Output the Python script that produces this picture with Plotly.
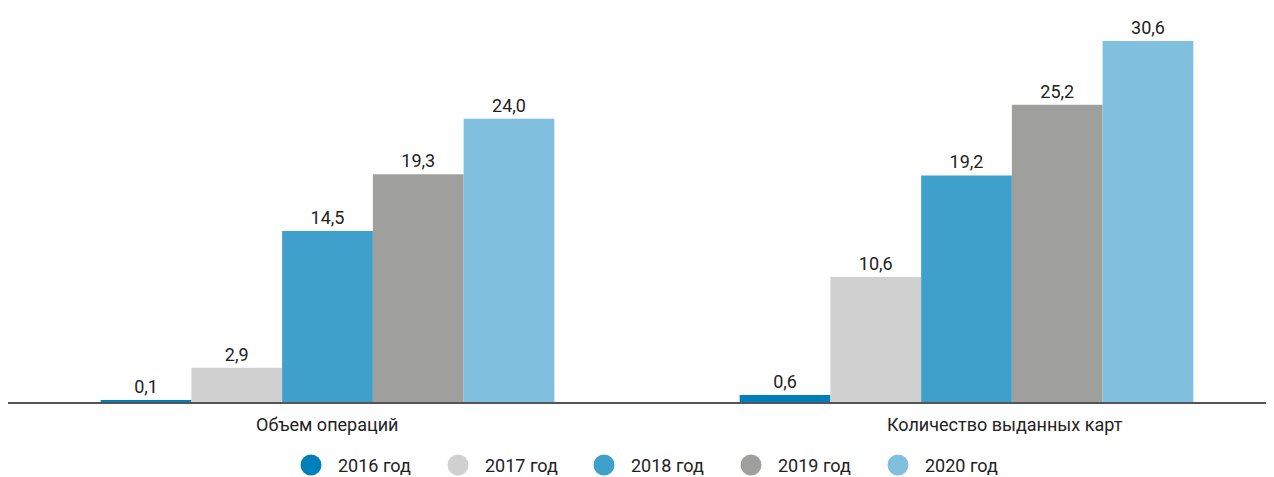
import plotly.graph_objects as go

categories = ["Объем операций", "Количество выданных карт"]
years = ["2016 год", "2017 год", "2018 год", "2019 год", "2020 год"]
values_2016 = [0.1, 0.6]
values_2017 = [2.9, 10.6]
values_2018 = [14.5, 19.2]
values_2019 = [19.3, 25.2]
values_2020 = [24.0, 30.6]
series = [values_2016, values_2017, values_2018, values_2019, values_2020]
colors = ["#0080BB", "#D0D0D0", "#40A0CC", "#9F9F9D", "#80BFDD"]

FONT = "Roboto"
TXT = "#222222"
W, H = 1274, 477
ML, MB = 0, 83
plot_w = W - ML
plot_h = H - MB
OFF = 8  # page body margin offset

fig = go.Figure()
xpos = list(range(len(categories)))
for name, vals, col in zip(years, series, colors):
    fig.add_trace(go.Bar(
        x=xpos, y=vals, name=name, marker_color=col, marker_line_width=0,
        text=[f"{v:.1f}".replace(".", ",") for v in vals],
        textposition="outside", cliponaxis=False,
        textfont=dict(family=FONT, size=18, color=TXT),
        showlegend=False,
    ))

shapes = []
annotations = []

# category labels under the axis (second one sits slightly right of its group)
label_shifts = [-1, 38]
for xv, lab, sh in zip(xpos, categories, label_shifts):
    annotations.append(dict(xref="x", yref="paper", x=xv, xshift=sh,
                            y=(plot_h - (424 - OFF)) / plot_h, yanchor="middle",
                            xanchor="center", text=lab, showarrow=False,
                            font=dict(family=FONT, size=18, color=TXT)))

# manual legend (circles + labels) below the axis
legend_centers_px = [311, 458, 604, 751, 898]
for name, col, cx in zip(years, colors, legend_centers_px):
    xp = (cx - OFF - ML) / plot_w
    yp = (plot_h - (465 - OFF)) / plot_h
    shapes.append(dict(type="circle", xref="paper", yref="paper",
                       xsizemode="pixel", ysizemode="pixel",
                       xanchor=xp, yanchor=yp, x0=-10.5, x1=10.5, y0=-10.5, y1=10.5,
                       fillcolor=col, line=dict(width=0)))
    annotations.append(dict(xref="paper", yref="paper", x=(cx + 25 - OFF - ML) / plot_w,
                            y=(plot_h - (465 - OFF)) / plot_h, xanchor="left",
                            yanchor="middle", text=name, showarrow=False,
                            font=dict(family=FONT, size=18, color=TXT)))

x0 = -0.5
fig.update_layout(
    width=W, height=H,
    margin=dict(l=ML, r=0, t=0, b=MB, autoexpand=False),
    paper_bgcolor="white", plot_bgcolor="white",
    barmode="group", bargap=0.29, bargroupgap=0,
    font=dict(family=FONT, size=18, color=TXT),
    showlegend=False,
    shapes=shapes, annotations=annotations,
    xaxis=dict(tickvals=xpos, showticklabels=False, range=[x0, x0 + plot_w / 639],
               showline=True, linecolor="#555555", linewidth=1.5, showgrid=False,
               zeroline=False, ticks="", automargin=False),
    yaxis=dict(range=[0, plot_h / 11.8], visible=False, showgrid=False, zeroline=False,
               automargin=False),
)
fig.write_html("out.html")
